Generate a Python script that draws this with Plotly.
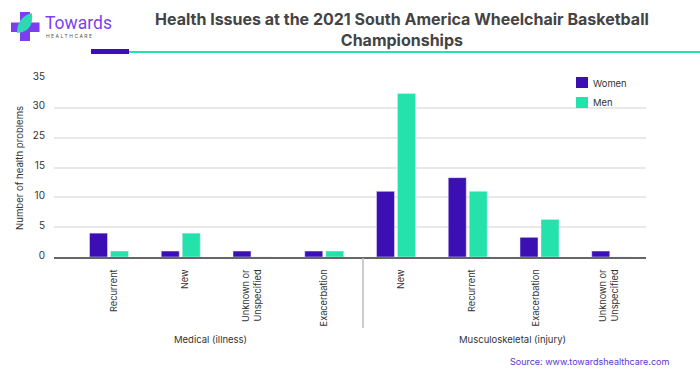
import numpy as np
import plotly.graph_objects as go

W, H = 700, 375
categories = ["Recurrent", "New", "Unknown or<br>Unspecified", "Exacerbation",
              "New", "Recurrent", "Exacerbation", "Unknown or<br>Unspecified"]
women = [4, 1, 1, 1, 11, 13.3, 3.3, 1]
men = [1, 4, 0, 1, 32.4, 11, 6.3, 0]
# The reference's evenly spaced axis labels skip 20.
y_tick_labels = [0, 5, 10, 15, 25, 30, 35]
group_labels = ["Medical (illness)", "Musculoskeletal (injury)"]
title = "Health Issues at the 2021 South America Wheelchair Basketball<br>Championships"
source = "Source: www.towardshealthcare.com"

PURPLE = "#3b0fb4"
GREEN = "#25e2ac"
FONT = "Inter, Roboto, sans-serif"
TEXT = "#333333"

def px(x):
    return x / W

def py(y):
    return 1 - y / H

# Each labelled interval gets one equal slot, as on the reference's axis.
y_slots = list(range(len(y_tick_labels)))

def to_slot(values):
    return np.interp(values, y_tick_labels, y_slots).tolist()

# x axis: category centres are 71.75 px apart, first at 109 px
PITCH = 71.75
x0 = (54 - 109) / PITCH
x1 = (646 - 109) / PITCH
xs = list(range(len(categories)))
label_nudge_px = [5, 4, 0, 0, 5, 4, -3, -2]
tick_positions = [i + n / PITCH for i, n in zip(xs, label_nudge_px)]

fig = go.Figure()
fig.add_bar(x=xs, y=to_slot(women), customdata=women, hovertemplate="%{customdata}",
            name="Women", marker_color=PURPLE, showlegend=False)
fig.add_bar(x=xs, y=to_slot(men), customdata=men, hovertemplate="%{customdata}",
            name="Men", marker_color=GREEN, showlegend=False)

def rect(a, b, c, d, color):
    return dict(type="rect", xref="paper", yref="paper", x0=px(a), x1=px(b), y0=py(c), y1=py(d),
                fillcolor=color, line_width=0)

shapes = [
    rect(129, 700, 51, 53, GREEN),
    rect(91, 129, 49, 54, PURPLE),
    dict(type="line", xref="paper", yref="paper", x0=px(363), x1=px(363), y0=py(258), y1=py(328),
         line=dict(color="#bdbdbd", width=1.5)),
    rect(576, 588, 77, 88, PURPLE),
    rect(576, 588, 97, 108, GREEN),
    rect(20, 30, 12, 41, "#7c3ff0"),
    rect(11, 39.5, 22.5, 32, "#7c3ff0"),
]
leaf_pts = ("M {:.4f} {:.4f} Q {:.4f} {:.4f} {:.4f} {:.4f} Q {:.4f} {:.4f} {:.4f} {:.4f} Z").format(
    px(32), py(13), px(17), py(17), px(17), py(33), px(34), py(32), px(32), py(13))
shapes.append(dict(type="path", path=leaf_pts, xref="paper", yref="paper", fillcolor="#2fd8b4", line_width=0))

def note(text, x, y, size, color=TEXT, anchor="center", family=FONT):
    return dict(text=text, x=px(x), y=py(y), xref="paper", yref="paper", showarrow=False,
                xanchor=anchor, yanchor="middle", font=dict(size=size, color=color, family=family))

annotations = [
    note(f"<b>{title}</b>", 402, 29.5, 16, "#444444"),
    note("Number of health problems", 20, 168, 9.6, TEXT),
    note(group_labels[0], 210, 339, 9.5),
    note(group_labels[1], 512, 339, 9.5),
    note("Women", 590.5, 83, 9.4, anchor="left"),
    note("Men", 590.5, 102, 9.4, anchor="left"),
    note(source, 507.5, 361, 9, "#5a35d0", anchor="left"),
    note("Towards", 43, 23, 17.5, "#7c3ff0", anchor="left", family="Roboto, sans-serif"),
    note("H E A L T H C A R E", 44, 36.5, 5, "#555555", anchor="left"),
]
annotations[1]["textangle"] = -90

fig.update_layout(
    width=W, height=H, margin=dict(l=0, r=0, t=0, b=0), autosize=False,
    paper_bgcolor="white", plot_bgcolor="white",
    barmode="group", bargap=0.415, bargroupgap=0.143,
    font=dict(family=FONT, size=10, color=TEXT),
    shapes=shapes, annotations=annotations,
    xaxis=dict(domain=[px(54), px(646)], range=[x0, x1], tickmode="array", tickvals=tick_positions,
               ticktext=categories, tickangle=-90, showgrid=False, zeroline=False, automargin=False,
               showline=True, linecolor="#666666", linewidth=1.5,
               ticks="outside", ticklen=7, tickcolor="rgba(0,0,0,0)",
               tickfont=dict(size=9.2, color=TEXT)),
    yaxis=dict(domain=[py(257), py(78)], range=[0, y_slots[-1]], tickmode="array", tickvals=y_slots,
               ticktext=[str(v) for v in y_tick_labels],
               showgrid=True, gridcolor="#e8e8e8", gridwidth=1.5, zeroline=False, automargin=False,
               ticks="outside", ticklen=6, tickcolor="rgba(0,0,0,0)", ticklabelshift=-2,
               tickfont=dict(size=10, color=TEXT)),
)

fig.write_html("out.html", config={"displayModeBar": False},
               post_script="document.body.style.margin='0';")
